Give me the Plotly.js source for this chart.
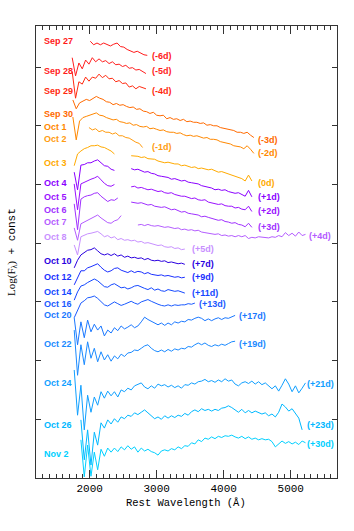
<!DOCTYPE html>
<html>
<head>
<meta charset="utf-8">
<script src="https://cdn.plot.ly/plotly-3.0.1.min.js"></script>
<style>
  html, body { margin: 0; padding: 0; background: #fff; }
  #chart { width: 354px; height: 531px; }
</style>
</head>
<body>
<div id="chart"></div>
<script>
// Spectral sequence: log flux + offset, sampled on a 50 A grid from each start wavelength.
// null marks the gap between the UV and optical parts.
const dates = ['Sep 27', 'Sep 28', 'Sep 29', 'Sep 30', 'Oct 1', 'Oct 2', 'Oct 3', 'Oct 4', 'Oct 5', 'Oct 6', 'Oct 7',
  'Oct 8', 'Oct 10', 'Oct 12', 'Oct 14', 'Oct 16', 'Oct 20', 'Oct 22', 'Oct 24', 'Oct 26', 'Nov 2'];
const phases = ['(-6d)', '(-5d)', '(-4d)', '(-3d)', '(-2d)', '(-1d)', '(0d)', '(+1d)', '(+2d)', '(+3d)', '(+4d)',
  '(+5d)', '(+7d)', '(+9d)', '(+11d)', '(+13d)', '(+17d)', '(+19d)', '(+21d)', '(+23d)', '(+30d)'];
const colors = ['#ff1a1a', '#ff1e1e', '#ff2a10', '#ff6a00', '#ff8800', '#ff9c10', '#ffaa00', '#8a00ff', '#9a10ff',
  '#a030ff', '#b45cff', '#c890ff', '#2a00e0', '#1a30ff', '#1448ff', '#1a5aff', '#1a78ff', '#1a8aff', '#10a0ff',
  '#00b8ff', '#00d0ff'];
const startWave = [2010, 1740, 1740, 1750, 1750, 1990, 1770, 1770, 1770, 1770, 1770,
  1770, 1770, 1770, 1770, 1770, 1770, 1770, 1770, 1870, 1870];
const stepWave = 50;

const sep27 = [7.44, 7.38, 7.41, 7.38, 7.41, 7.38, 7.36, 7.39, 7.41, 7.35, 7.34, 7.30, 7.28, 7.25, 7.27, 7.24, 7.21, 7.20];
const sep28 = [7.16, 6.85, 7.07, 6.97, 7.12, 7.05, 7.16, 7.09, 7.14, 7.09, 7.11, 7.06, 7.09, 7.04, 7.05, 7.01, 7.03,
  6.98, 6.99, 6.95, 6.96, 6.92, 6.89];
const sep29 = [6.92, 6.47, 6.75, 6.71, 6.83, 6.76, 6.83, 6.81, 6.88, 6.82, 6.86, 6.80, 6.81, 6.75, 6.77, 6.72, 6.73,
  6.66, 6.68, 6.63, 6.67, 6.65, 6.63];
const sep30 = [6.44, 6.29, 6.39, 6.42, 6.45, 6.43, 6.46, 6.50, 6.47, 6.45, 6.41, 6.40, 6.36, 6.38, 6.35, 6.36, 6.33,
  6.31, 6.32, 6.28, 6.29, 6.25, 6.24, 6.21, 6.23, 6.18, 6.17, 6.18, 6.12, 6.14, 6.11, 6.12, 6.09, 6.11, 6.07, 6.08,
  6.06, 6.06, 6.04, 6.05, 6.01, 6.02, 6.00, 6.00, 5.97, 5.96, 5.94, 5.93, 5.92, 5.89, 5.89, 5.87, 5.89, 5.84, 5.80];
const oct1 = [6.15, 5.76, 6.08, 6.14, 6.16, 6.18, 6.19, 6.22, 6.18, 6.17, 6.14, 6.12, 6.10, 6.11, 6.07, 6.06, 6.04,
  6.05, 6.01, 6.02, 5.99, 5.98, 5.99, 5.95, 5.96, 5.94, 5.92, 5.93, 5.90, 5.89, 5.89, 5.87, 5.88, 5.85, 5.83, 5.84,
  5.82, 5.83, 5.81, 5.79, 5.80, 5.77, 5.77, 5.76, 5.73, 5.72, 5.70, 5.69, 5.66, 5.65, 5.64, 5.61, 5.66, 5.60, 5.53];
const oct2 = [5.97, 5.93, 5.95, 5.90, 5.92, 5.89, 5.89, 5.86, 5.88, 5.83, 5.83, 5.80, 5.79, 5.75, 5.72, 5.70, 5.63];
const oct3 = [5.32, 5.52, 5.57, 5.61, 5.63, 5.66, 5.66, 5.67, 5.64, 5.63, 5.60, 5.57, 5.52, null, null, null, null,
  5.49, 5.49, 5.48, 5.46, 5.47, 5.44, 5.43, 5.43, 5.40, 5.39, 5.37, 5.38, 5.36, 5.35, 5.35, 5.32, 5.33, 5.31, 5.29,
  5.30, 5.27, 5.28, 5.26, 5.25, 5.26, 5.23, 5.21, 5.22, 5.20, 5.18, 5.17, 5.14, 5.13, 5.10, 5.06, 5.16, 5.06];
const oct4 = [5.21, 4.91, 5.33, 5.34, 5.37, 5.37, 5.40, 5.42, 5.37, 5.32, 5.31, 5.26, 5.24, null, null, null, null,
  5.27, 5.25, 5.26, 5.23, 5.21, 5.22, 5.19, 5.18, 5.15, 5.14, 5.13, 5.12, 5.09, 5.10, 5.08, 5.06, 5.07, 5.04, 5.03,
  5.02, 5.01, 4.98, 4.97, 4.95, 4.94, 4.91, 4.92, 4.90, 4.91, 4.88, 4.87, 4.85, 4.86, 4.83, 4.80, 4.90, 4.79];
const oct5 = [5.01, 4.57, 5.01, 5.04, 5.07, 5.09, 5.11, 5.14, 5.08, 5.02, 4.98, 4.97, 5.00, null, null, null, null,
  4.96, 4.97, 4.94, 4.95, 4.93, 4.91, 4.92, 4.90, 4.88, 4.89, 4.86, 4.85, 4.86, 4.83, 4.81, 4.80, 4.80, 4.78, 4.76,
  4.77, 4.74, 4.73, 4.74, 4.70, 4.69, 4.68, 4.66, 4.67, 4.64, 4.63, 4.63, 4.60, 4.61, 4.58, 4.57, 4.63, 4.54];
const oct6 = [4.67, 4.23, 4.75, 4.79, 4.81, 4.82, 4.85, 4.86, 4.80, 4.76, 4.71, 4.74, 4.73, 4.77, null, null, null,
  4.70, 4.69, 4.68, 4.69, 4.67, 4.65, 4.66, 4.63, 4.62, 4.61, 4.62, 4.59, 4.57, 4.58, 4.56, 4.53, 4.54, 4.51, 4.50,
  4.49, 4.48, 4.45, 4.46, 4.44, 4.42, 4.41, 4.39, 4.40, 4.37, 4.36, 4.34, 4.35, 4.32, 4.31, 4.28, 4.34, 4.27];
const oct7 = [4.26, 4.05, 4.33, 4.36, 4.40, 4.42, 4.46, 4.48, 4.43, 4.39, 4.35, 4.34, 4.38, 4.40, 4.47, null, null, null, null,
  4.31, 4.32, 4.30, 4.32, 4.30, 4.29, 4.30, 4.28, 4.27, 4.28, 4.26, 4.25, 4.26, 4.23, 4.24, 4.22, 4.23, 4.21, 4.22,
  4.19, 4.18, 4.17, 4.17, 4.15, 4.16, 4.13, 4.14, 4.12, 4.13, 4.11, 4.13, 4.11, 4.13, 4.08, 4.10, 4.09, 4.11, 4.10,
  4.10, 4.09, 4.11, 4.10, 4.13, 4.11, 4.18, 4.13, 4.17, 4.12, 4.19, 4.13, 4.15];
const oct8 = [3.97, 3.80, 4.11, 4.14, 4.16, 4.17, 4.18, 4.20, 4.16, 4.11, 4.13, 4.09, 4.11, 4.06, 4.08, 4.05, 4.06,
  4.04, 4.05, 4.02, 4.03, 4.00, 4.01, 3.99, 3.98, 3.96, 3.97, 3.94, 3.93, 3.94, 3.91, 3.92, 3.89, 3.90];
const oct10 = [3.58, 3.71, 3.80, 3.84, 3.88, 3.89, 3.92, 3.87, 3.82, 3.80, 3.82, 3.79, 3.82, 3.78, 3.80, 3.76, 3.78,
  3.75, 3.76, 3.74, 3.75, 3.72, 3.74, 3.71, 3.70, 3.71, 3.69, 3.70, 3.67, 3.68, 3.66, 3.65, 3.66, 3.64];
const oct12 = [3.29, 3.41, 3.53, 3.53, 3.58, 3.60, 3.63, 3.65, 3.59, 3.54, 3.51, 3.53, 3.57, 3.58, 3.54, 3.52, 3.50,
  3.53, 3.50, 3.52, 3.51, 3.48, 3.50, 3.47, 3.46, 3.45, 3.46, 3.44, 3.45, 3.43, 3.42, 3.43, 3.41, 3.42];
const oct14 = [3.03, 3.17, 3.27, 3.29, 3.33, 3.36, 3.39, 3.36, 3.31, 3.26, 3.25, 3.29, 3.31, 3.27, 3.24, 3.25, 3.22,
  3.24, 3.27, 3.28, 3.25, 3.23, 3.21, 3.24, 3.20, 3.22, 3.19, 3.18, 3.21, 3.19, 3.18, 3.19, 3.17, 3.15];
const oct16 = [2.73, 2.86, 2.98, 3.02, 3.07, 3.08, 3.10, 3.06, 3.00, 2.95, 2.93, 2.96, 3.00, 2.97, 2.94, 2.96, 2.99,
  3.01, 2.98, 2.96, 3.00, 3.02, 3.04, 3.01, 2.98, 2.96, 2.94, 2.93, 2.95, 2.93, 2.95, 2.94, 2.95, 2.95, 2.97, 2.96, 2.98];
const oct20 = [2.73, 2.27, 2.66, 2.39, 2.69, 2.49, 2.62, 2.52, 2.59, 2.42, 2.52, 2.47, 2.56, 2.51, 2.59, 2.54, 2.57,
  2.61, 2.56, 2.59, 2.66, 2.74, 2.70, 2.67, 2.64, 2.61, 2.64, 2.60, 2.64, 2.61, 2.66, 2.64, 2.67, 2.66, 2.70, 2.69,
  2.72, 2.74, 2.72, 2.68, 2.71, 2.68, 2.71, 2.73, 2.70, 2.73, 2.72, 2.75, 2.77];
const oct22 = [2.52, 1.75, 2.27, 1.93, 2.32, 2.04, 2.21, 1.98, 2.15, 2.01, 2.10, 1.99, 2.08, 2.03, 2.11, 2.07, 2.13,
  2.14, 2.18, 2.17, 2.21, 2.25, 2.27, 2.21, 2.17, 2.15, 2.18, 2.15, 2.19, 2.16, 2.20, 2.18, 2.21, 2.20, 2.24, 2.23,
  2.27, 2.30, 2.27, 2.30, 2.26, 2.24, 2.27, 2.25, 2.28, 2.26, 2.29, 2.32, 2.33];
const oct24 = [1.84, 1.07, 1.58, 0.82, 1.41, 1.12, 1.38, 1.24, 1.47, 1.36, 1.48, 1.40, 1.47, 1.38, 1.50, 1.47, 1.53,
  1.50, 1.57, 1.60, 1.62, 1.55, 1.52, 1.57, 1.53, 1.60, 1.57, 1.59, 1.55, 1.58, 1.54, 1.57, 1.53, 1.59, 1.58, 1.62,
  1.60, 1.64, 1.65, 1.68, 1.64, 1.66, 1.63, 1.67, 1.64, 1.69, 1.65, 1.67, 1.60, 1.57, 1.62, 1.64, 1.61, 1.65, 1.60,
  1.64, 1.59, 1.62, 1.57, 1.52, 1.57, 1.48, 1.58, 1.69, 1.60, 1.47, 1.57, 1.45, 1.53, 1.62];
const oct26 = [0.99, 0.31, 0.82, 0.22, 0.78, 0.56, 0.94, 0.85, 0.99, 0.92, 1.01, 0.95, 1.04, 1.01, 1.07, 1.05, 1.11,
  1.08, 1.12, 1.16, 1.11, 1.06, 1.01, 1.04, 1.00, 1.06, 1.02, 1.06, 1.03, 1.07, 1.05, 1.10, 1.07, 1.13, 1.16, 1.13,
  1.18, 1.15, 1.17, 1.14, 1.17, 1.15, 1.19, 1.20, 1.23, 1.20, 1.16, 1.12, 1.17, 1.11, 1.15, 1.11, 1.14, 1.11, 1.09,
  1.11, 1.06, 1.09, 1.04, 1.12, 1.26, 1.21, 1.14, 1.18, 1.09, 1.02, 0.82];
const nov2 = [0.65, 0.02, 0.56, 0.03, 0.44, 0.14, 0.49, 0.37, 0.51, 0.44, 0.51, 0.45, 0.53, 0.48, 0.55, 0.49, 0.53,
  0.44, 0.51, 0.46, 0.49, 0.45, 0.43, 0.39, 0.46, 0.48, 0.46, 0.50, 0.48, 0.53, 0.50, 0.55, 0.54, 0.60, 0.58, 0.65,
  0.62, 0.68, 0.66, 0.70, 0.67, 0.71, 0.69, 0.72, 0.71, 0.73, 0.70, 0.68, 0.71, 0.67, 0.70, 0.66, 0.68, 0.65, 0.67,
  0.65, 0.66, 0.62, 0.53, 0.58, 0.63, 0.59, 0.62, 0.58, 0.61, 0.57, 0.63, 0.60];

const fluxes = [sep27, sep28, sep29, sep30, oct1, oct2, oct3, oct4, oct5, oct6, oct7,
  oct8, oct10, oct12, oct14, oct16, oct20, oct22, oct24, oct26, nov2];

// where the date / phase labels sit
const dateLabelX = 1290;
const dateLabelY = [7.44, 6.93, 6.60, 6.20, 5.98, 5.78, 5.37, 5.02, 4.78, 4.56, 4.36,
  4.11, 3.70, 3.43, 3.17, 2.96, 2.77, 2.29, 1.61, 0.90, 0.41];
const phaseLabelX = [2905, 2905, 2905, 4486, 4486, 2905, 4486, 4486, 4486, 4486, 5242,
  3490, 3490, 3490, 3490, 3601, 4198, 4198, 5207, 5207, 5207];
const phaseLabelY = [7.19, 6.93, 6.60, 5.76, 5.53, 5.64, 5.03, 4.78, 4.55, 4.27, 4.13,
  3.90, 3.65, 3.42, 3.16, 2.96, 2.76, 2.29, 1.60, 0.90, 0.58];

const traces = fluxes.map((flux, i) => ({
  x: flux.map((_, j) => startWave[i] + j * stepWave),
  y: flux,
  type: 'scatter',
  mode: 'lines',
  line: { color: colors[i], width: 1 },
  connectgaps: false,
  hoverinfo: 'skip',
  showlegend: false
}));

const labelFont = (c) => ({ family: 'Liberation Sans, Arial, sans-serif', size: 9, color: c, weight: 'bold' });

const annotations = [];
dates.forEach((d, i) => {
  annotations.push({ x: dateLabelX, y: dateLabelY[i], text: d, showarrow: false,
    xanchor: 'left', yanchor: 'middle', font: labelFont(colors[i]) });
  annotations.push({ x: phaseLabelX[i], y: phaseLabelY[i], text: phases[i], showarrow: false,
    xanchor: 'left', yanchor: 'middle', font: labelFont(colors[i]) });
});

// axis titles
annotations.push({
  xref: 'paper', yref: 'paper', x: 0.498, y: -0.055, xanchor: 'center', yanchor: 'middle',
  text: 'Rest Wavelength (Å)', showarrow: false,
  font: { family: 'Liberation Mono, Courier New, monospace', size: 10.5, color: '#000' }
});
annotations.push({
  xref: 'paper', yref: 'paper', x: -0.08, y: 0.5, xanchor: 'center', yanchor: 'middle', textangle: -90,
  text: '<span style="font-family:Liberation Serif">Log(F<sub>λ</sub>)</span> + const', showarrow: false,
  font: { family: 'Liberation Mono, Courier New, monospace', size: 11, color: '#000' }
});

const axisColor = '#333';
const layout = {
  width: 354,
  height: 531,
  margin: { l: 36, r: 17, t: 26, b: 53 },
  paper_bgcolor: '#fff',
  plot_bgcolor: '#fff',
  xaxis: {
    range: [1200, 5690],
    dtick: 1000,
    ticks: 'inside',
    ticklen: 8,
    tickwidth: 1,
    tickcolor: axisColor,
    minor: { ticks: 'inside', dtick: 100, ticklen: 4, tickwidth: 1, tickcolor: axisColor },
    showline: true,
    linecolor: axisColor,
    linewidth: 1,
    mirror: 'allticks',
    showgrid: false,
    zeroline: false,
    tickfont: { family: 'Liberation Mono, Courier New, monospace', size: 11, color: '#000' }
  },
  yaxis: {
    range: [0, 7.7],
    tickvals: [1, 2, 3, 4, 5, 6, 7],
    ticks: 'inside',
    ticklen: 5,
    tickwidth: 1,
    tickcolor: axisColor,
    showticklabels: false,
    showline: true,
    linecolor: axisColor,
    linewidth: 1,
    mirror: 'allticks',
    showgrid: false,
    zeroline: false
  },
  annotations: annotations
};

Plotly.newPlot('chart', traces, layout, { displayModeBar: false, staticPlot: true });
</script>
</body>
</html>
